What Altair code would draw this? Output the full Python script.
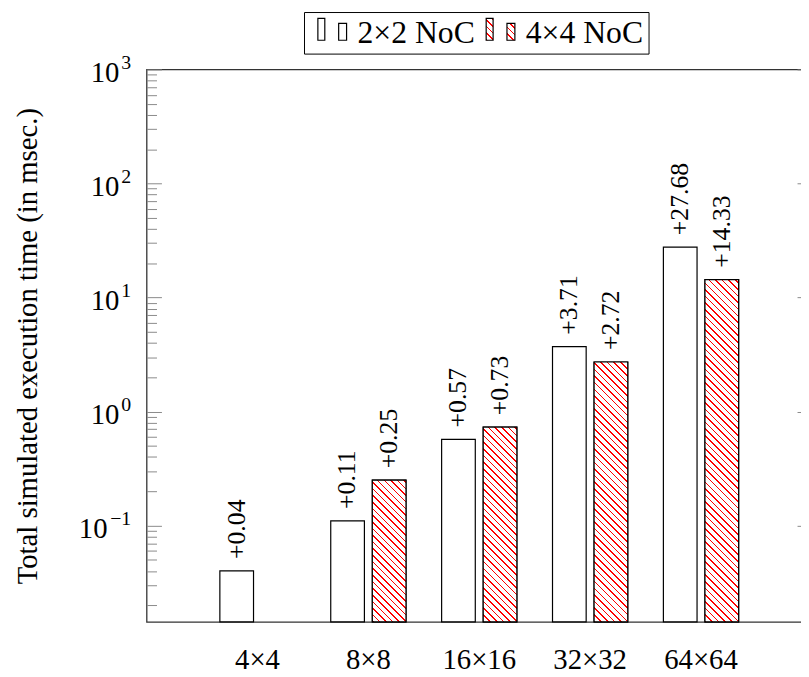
import math
import altair as alt
import pandas as pd

# ---------------- data ----------------
categories = ["4×4", "8×8", "16×16", "32×32", "64×64"]
series = ["2×2 NoC", "4×4 NoC"]
noc_2x2 = [0.04, 0.11, 0.57, 3.71, 27.68]
noc_4x4 = [None, 0.25, 0.73, 2.72, 14.33]
labels_2x2 = ["+0.04", "+0.11", "+0.57", "+3.71", "+27.68"]
labels_4x4 = [None, "+0.25", "+0.73", "+2.72", "+14.33"]
major_ticks = [0.1, 1, 10, 100, 1000]
minor_ticks = [0.02, 0.03, 0.04, 0.05, 0.06, 0.07, 0.08, 0.09,
               0.2, 0.3, 0.4, 0.5, 0.6, 0.7, 0.8, 0.9,
               2, 3, 4, 5, 6, 7, 8, 9,
               20, 30, 40, 50, 60, 70, 80, 90,
               200, 300, 400, 500, 600, 700, 800, 900]
y_domain = [0.0143, 1000]

rows = []
for i, c in enumerate(categories):
    for s, vals, labs in ((series[0], noc_2x2, labels_2x2), (series[1], noc_4x4, labels_4x4)):
        if vals[i] is not None:
            rows.append({"cat": c, "series": s, "value": vals[i], "base": y_domain[0], "label": labs[i]})
df = pd.DataFrame(rows)

# ---------------- style ----------------
FONT = "Liberation Serif"
W, H = 672, 558
STEP = W / 6.0
GROUP_W = 76.0
SUB_GAP = 8.0
BAR_W = (GROUP_W - SUB_GAP) / 2.0
PAD_INNER = 1 - GROUP_W / STEP
PAD_OUTER = (1 + PAD_INNER) / 2
HATCH_SPACING = 6.7
HATCH_FRAC = 0.24
RED = "#ff0000"
FRAME = "#333333"
TICK = "#8a8a8a"

PPD = H / (math.log10(y_domain[1]) - math.log10(y_domain[0]))


def hatch_params(w, h):
    s = (1 + h / w) / (1 + (h / w) ** 2)
    n = (w + h) / HATCH_SPACING
    stops = []
    k = 0
    while k / n < 1:
        a = k / n
        b = min((k + HATCH_FRAC) / n, 1)
        c = min((k + 1) / n, 1)
        stops += [(a, RED), (b, RED), (b, "#ffffff"), (c, "#ffffff")]
        k += 1
    return s, 1 - s * h / w, stops


def hatch(v):
    h = (math.log10(v) - math.log10(y_domain[0])) * PPD
    x2, y2, stops = hatch_params(BAR_W, h)
    return alt.LinearGradient(gradient="linear", x1=0, y1=1, x2=x2, y2=y2,
                              stops=[alt.GradientStop(offset=o, color=col) for o, col in stops])


def hatch_expr(w, h):
    x2, y2, stops = hatch_params(w, h)
    st = ",".join("{offset:%.5f,color:'%s'}" % (o, col) for o, col in stops)
    return "{gradient:'linear',x1:0,y1:1,x2:%.5f,y2:%.5f,stops:[%s]}" % (x2, y2, st)


# legend swatch: two small bars (pgfplots ybar legend image), in a 28px symbol box
LEG_SYMBOL = "M-0.5,-1.036H0V0.536H-0.5Z M1,-0.679H1.571V0.536H1Z"
LEG_SIZE = 28 * 28

yscale = alt.Scale(type="log", domain=y_domain, nice=False)
xscale = alt.Scale(domain=categories, paddingInner=PAD_INNER, paddingOuter=PAD_OUTER)
xoff = alt.XOffset("series:N", scale=alt.Scale(domain=series, paddingInner=SUB_GAP / (BAR_W + SUB_GAP), paddingOuter=0))

x_axis = alt.Axis(orient="bottom", title=None, labelAngle=0, labelFont=FONT, labelFontSize=29,
                  labelColor="black", labelPadding=24, ticks=False, domain=False, grid=False)


def xenc():
    return alt.X("cat:N", scale=xscale, sort=categories, axis=x_axis)


ten_axis = alt.Axis(orient="left", values=major_ticks, labelExpr="'10'", labelFont=FONT, labelFontSize=29,
                    labelColor="black",
                    labelPadding={"condition": {"test": "datum.value < 0.5", "value": 40}, "value": 28},
                    labelOffset=3, ticks=False, tickSize=0, domain=False, grid=False,
                    title="Total simulated execution time (in msec.)", titleFont=FONT, titleFontSize=29,
                    titleFontWeight="normal", titleColor="black", titleX=-111, titleBaseline="alphabetic")

exp_axis = alt.Axis(orient="left", values=major_ticks,
                    labelExpr="replace('' + round(log(datum.value) / LN10), '-', '−')",
                    labelFont=FONT, labelFontSize=20, labelColor="black", labelPadding=16, labelOffset=-7,
                    ticks=False, tickSize=0, domain=False, grid=False, title=None)


def tick_axis(orient, values, size):
    return alt.Axis(orient=orient, offset=-W, values=values, labels=False, domain=False, grid=False,
                    ticks=True, tickSize=size, tickColor=TICK, tickWidth=1, title=None)


tick_axes = [tick_axis("right", major_ticks, 15), tick_axis("right", minor_ticks, 10),
             tick_axis("left", major_ticks, 15), tick_axis("left", minor_ticks, 10)]

base = alt.Chart(df)

legend = alt.Legend(orient="none", legendX=159, legendY=-58, direction="horizontal", columns=2, title=None,
                    symbolType=LEG_SYMBOL, symbolSize=LEG_SIZE, symbolStrokeColor="black",
                    symbolStrokeWidth=1.2, labelFont=FONT, labelFontSize=32, labelColor="black",
                    labelOffset=17, labelLimit=400, columnPadding=2, padding=5,
                    labelExpr="datum.label == '4×4 NoC' ? datum.label + '\u2002\u2009' : datum.label",
                    strokeColor="black", fillColor="white")

bars = base.mark_bar(stroke="black", strokeWidth=1.2).encode(
    x=xenc(),
    xOffset=xoff,
    y=alt.Y("value:Q", scale=yscale, axis=ten_axis),
    y2="base:Q",
    fill=alt.Fill("series:N",
                  scale=alt.Scale(domain=series, range=["#ffffff", {"expr": hatch_expr(29, 22)}]),
                  legend=legend),
)

texts = base.mark_text(angle=270, align="left", baseline="middle", dx=12, font=FONT,
                       fontSize=26, color="black").encode(
    x=xenc(),
    xOffset=xoff,
    y=alt.Y("value:Q", scale=yscale, axis=exp_axis),
    text="label:N",
)

hatch_layers = []
j = 0
for i, c in enumerate(categories):
    v = noc_4x4[i]
    if v is None:
        continue
    layer = base.transform_filter(
        f"datum.cat == '{c}' && datum.series == '{series[1]}'"
    ).mark_bar(fill=hatch(v), stroke="black", strokeWidth=1.2).encode(
        x=xenc(),
        xOffset=xoff,
        y=alt.Y("value:Q", scale=yscale, axis=tick_axes[j % 4]),
        y2="base:Q",
    )
    hatch_layers.append(layer)
    j += 1

chart = alt.layer(bars, *hatch_layers, texts).resolve_scale(y="shared").resolve_axis(y="independent").properties(
    width=W, height=H,
    autosize=alt.AutoSizeParams(type="none"),
    padding={"left": 140, "top": 58.7, "right": -11, "bottom": 52},
).configure(font=FONT).configure_view(stroke=FRAME, strokeWidth=1.3)

chart.save("out.html", embed_options={"renderer": "svg", "actions": False})
